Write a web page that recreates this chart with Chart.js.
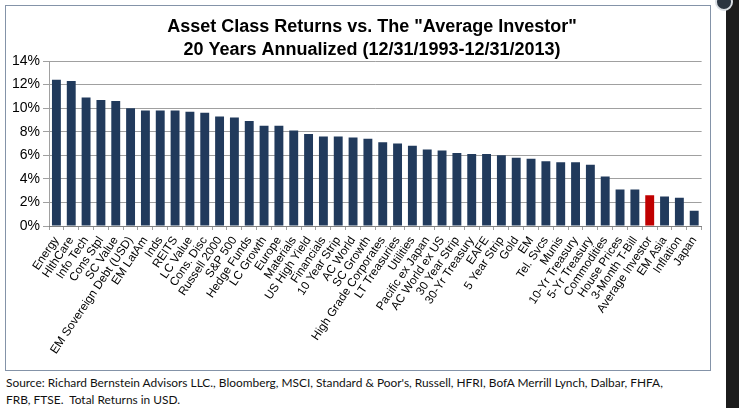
<!DOCTYPE html>
<html>
<head>
<meta charset="utf-8">
<script src="https://cdn.jsdelivr.net/npm/chart.js@4/dist/chart.umd.min.js"></script>
<style>
  html, body { margin: 0; padding: 0; background: #fff; }
  body { width: 739px; height: 408px; position: relative; overflow: hidden; }
  #box {
    position: absolute; left: 5px; top: 5px; width: 706px; height: 366px;
    border: 1px solid #8493a8; box-sizing: border-box; background: #fff;
  }
  #strip { position: absolute; left: 726px; top: 0; width: 13px; height: 408px; background: #1c1c1c; }
  #knob {
    position: absolute; left: 715px; top: -7px; width: 14px; height: 14px; border-radius: 50%;
    background: #2a3440; border: 2px solid #d8dde3;
  }
  #source {
    position: absolute; left: 6px; top: 374px; width: 720px; white-space: nowrap;
    font-family: Lato, "Open Sans", sans-serif; font-size: 11.9px; line-height: 17px; color: #111;
  }
</style>
</head>
<body>
<div id="box"><canvas id="assetChart"></canvas></div>
<div id="strip"></div>
<div id="knob"></div>
<div id="source">Source: Richard Bernstein Advisors LLC., Bloomberg, MSCI, Standard &amp; Poor's, Russell, HFRI, BofA Merrill Lynch, Dalbar, FHFA,<br>FRB, FTSE.&nbsp; Total Returns in USD.</div>
<script>
// Asset classes, sorted by 20-year annualized return
const assetClasses = [
    "Energy", "HlthCare", "Info Tech", "Cons Stpl", "SC Value", "EM Sovereign Debt (USD)",
    "EM LatAm", "Inds", "REITS", "LC Value", "Cons. Disc", "Russell 2000", "S&P 500",
    "Hedge Funds", "LC Growth", "Europe", "Materials", "US High Yield", "Financials",
    "10 Year Strip", "AC World", "SC Growth", "High Grade Corporates", "LT Treasuries",
    "Utilities", "Pacific ex Japan", "AC World ex US", "30 Year Strip", "30-Yr Treasury",
    "EAFE", "5 Year Strip", "Gold", "EM", "Tel. Svcs", "Munis", "10-Yr Treasury",
    "5-Yr Treasury", "Commodities", "House Prices", "3-Month T-Bill", "Average Investor",
    "EM Asia", "Inflation", "Japan"
];

// Annualized returns (%)
const annualReturns = [
    12.4, 12.3, 10.9, 10.7, 10.6, 10.0,
    9.8, 9.8, 9.8, 9.7, 9.6, 9.3, 9.2,
    8.9, 8.5, 8.5, 8.1, 7.8, 7.6,
    7.6, 7.5, 7.4, 7.1, 7.0,
    6.8, 6.5, 6.4, 6.2, 6.1,
    6.1, 6.0, 5.8, 5.7, 5.5, 5.4, 5.4,
    5.2, 4.2, 3.1, 3.1, 2.6,
    2.5, 2.4, 1.3
];

const highlightClass = "Average Investor";
const titleLines = ['Asset Class Returns vs. The "Average Investor"', '20 Years Annualized (12/31/1993-12/31/2013)'];

// Navy for everything, red for the average investor
const barColors = assetClasses.map(name => name === highlightClass ? "#c00000" : "#213a5c");

// The original title sits a little right of the canvas centre, so draw it by hand
const titlePlugin = {
    id: "titlePlugin",
    afterDraw(chart) {
        const ctx = chart.ctx;
        ctx.save();
        ctx.font = "bold 18px 'Liberation Sans', Arial, sans-serif";
        ctx.fillStyle = "#000";
        ctx.textAlign = "center";
        ctx.textBaseline = "alphabetic";
        titleLines.forEach((line, i) => ctx.fillText(line, 366, 26 + i * 23));
        ctx.restore();
    }
};

let assetChart = new Chart("assetChart", {
    type: "bar",
    data: {
        labels: assetClasses,
        datasets: [{
            data: annualReturns,
            backgroundColor: barColors,
            barPercentage: 0.6,
            categoryPercentage: 1.0,
        }]
    },
    plugins: [titlePlugin],
    options: {
        responsive: true,
        maintainAspectRatio: false,
        animation: false,
        layout: {padding: {left: 0, right: 5, top: 55, bottom: 0}},
        plugins: {
            legend: {display: false},
            tooltip: {enabled: false},
            title: {display: false}
        },
        scales: {
            y: {
                min: 0,
                max: 14,
                ticks: {
                    stepSize: 2,
                    color: "#000",
                    padding: 3,
                    font: {family: "Liberation Sans, Arial, sans-serif", size: 14},
                    callback: value => value + "%"
                },
                grid: {color: "#a0a0a0", tickLength: 6, tickColor: "#a0a0a0"},
                border: {color: "#a0a0a0"},
                afterFit: scale => { scale.width = 43; }
            },
            x: {
                ticks: {
                    color: "#000",
                    minRotation: 56,
                    maxRotation: 56,
                    autoSkip: false,
                    padding: 4,
                    font: {family: "Liberation Sans, Arial, sans-serif", size: 11.8}
                },
                grid: {offset: true, drawOnChartArea: false, tickLength: 4, color: "#a0a0a0"},
                border: {color: "#808080"},
                afterFit: scale => { scale.height = 144; }
            }
        }
    }
});
</script>
</body>
</html>
